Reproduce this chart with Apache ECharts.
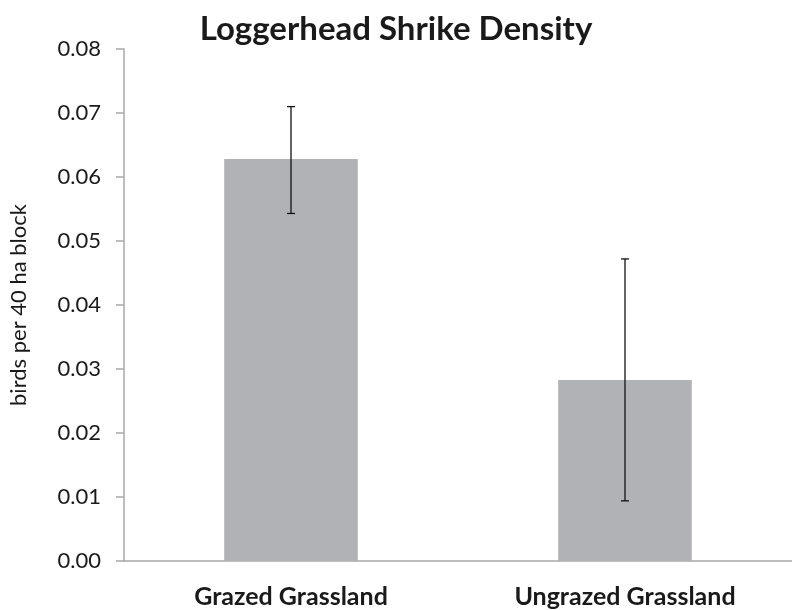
<!DOCTYPE html>
<html>
<head>
<meta charset="utf-8">
<script src="https://cdn.jsdelivr.net/npm/echarts@6/dist/echarts.min.js"></script>
<style>
  html, body { margin: 0; padding: 0; background: #fff; }
  #chart { width: 792px; height: 610px; }
</style>
</head>
<body>
<div id="chart"></div>
<script>
var categories = ['Grazed Grassland', 'Ungrazed Grassland'];
var density = [0.0628, 0.0283];
var errLow = [0.0543, 0.0094];
var errHigh = [0.0710, 0.0472];

var chart = echarts.init(document.getElementById('chart'));

var errData = [];
for (var i = 0; i < categories.length; i++) {
  errData.push([i, errLow[i], errHigh[i]]);
}

function drawErr(params, api) {
  var x = api.value(0);
  var lo = api.coord([x, api.value(1)]);
  var hi = api.coord([x, api.value(2)]);
  var cap = 4;
  var st = { stroke: '#111', lineWidth: 1.3 };
  return {
    type: 'group',
    children: [
      { type: 'line', shape: { x1: hi[0], y1: hi[1], x2: lo[0], y2: lo[1] }, style: st },
      { type: 'line', shape: { x1: hi[0] - cap, y1: hi[1], x2: hi[0] + cap, y2: hi[1] }, style: st },
      { type: 'line', shape: { x1: lo[0] - cap, y1: lo[1], x2: lo[0] + cap, y2: lo[1] }, style: st }
    ]
  };
}

var option = {
  backgroundColor: '#fff',
  animation: false,
  title: {
    text: 'Loggerhead Shrike Density',
    left: 'center',
    top: 8,
    textStyle: { fontFamily: 'Lato', fontWeight: 'bold', fontSize: 33, color: '#1a1a1a' }
  },
  grid: { left: 112, top: 49, width: 685, height: 512, containLabel: false },
  xAxis: {
    type: 'category',
    data: categories,
    axisTick: { show: false },
    axisLine: { lineStyle: { color: '#a8a8a8', width: 1.5 } },
    axisLabel: {
      margin: 23,
      fontFamily: 'Lato',
      fontWeight: 'bold',
      fontSize: 25,
      color: '#1a1a1a'
    }
  },
  yAxis: {
    type: 'value',
    min: 0,
    max: 0.08,
    interval: 0.01,
    name: 'birds per 40 ha block',
    nameLocation: 'middle',
    nameRotate: 90,
    nameGap: 94,
    nameTextStyle: { fontFamily: 'Lato', fontSize: 22, color: '#1a1a1a' },
    splitLine: { show: false },
    axisLine: { show: true, lineStyle: { color: '#a8a8a8', width: 1.5 } },
    axisTick: { show: true, length: 8, lineStyle: { color: '#a8a8a8', width: 1.5 } },
    axisLabel: {
      margin: 23,
      fontFamily: 'Lato',
      fontSize: 22,
      color: '#1a1a1a',
      formatter: function (v) { return v.toFixed(2); }
    }
  },
  series: [
    {
      type: 'bar',
      data: density,
      barWidth: '40%',
      itemStyle: { color: '#b1b2b6' }
    },
    {
      type: 'custom',
      renderItem: drawErr,
      data: errData,
      z: 5
    }
  ]
};

chart.setOption(option);
</script>
</body>
</html>
